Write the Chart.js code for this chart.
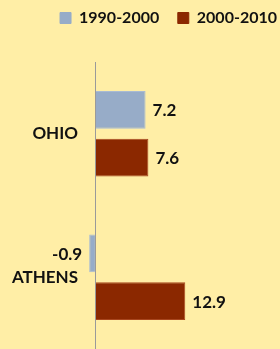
<!DOCTYPE html>
<html>
<head>
<meta charset="utf-8">
<script src="https://cdn.jsdelivr.net/npm/chart.js@4"></script>
<style>
  html, body { margin: 0; padding: 0; background: #FFEEA6; }
  #wrap { width: 280px; height: 349px; position: relative; }
</style>
</head>
<body>
<div id="wrap"><canvas id="popChart"></canvas></div>
<script>
const categories = ["OHIO", "ATHENS"];
const seriesNames = ["1990-2000", "2000-2010"];
const change1990s = [7.2, -0.9];
const change2000s = [7.6, 12.9];

const FONT = "Lato, 'Open Sans', sans-serif";

// draws the value next to each bar end
const valueLabels = {
  id: "valueLabels",
  afterDatasetsDraw(chart) {
    const ctx = chart.ctx;
    ctx.save();
    ctx.font = "bold 17px " + FONT;
    ctx.fillStyle = "#111";
    ctx.textBaseline = "middle";
    chart.data.datasets.forEach((ds, i) => {
      chart.getDatasetMeta(i).data.forEach((bar, j) => {
        const v = ds.data[j];
        if (v < 0) {
          ctx.textAlign = "right";
          ctx.fillText(v.toFixed(1), bar.x - 7, bar.y + 1);
        } else {
          ctx.textAlign = "left";
          ctx.fillText(v.toFixed(1), bar.x + 7, bar.y + 1);
        }
      });
    });
    ctx.restore();
  },
};

// keep the plot area starting at a fixed height under the legend
const legendSpace = {
  id: "legendSpace",
  beforeInit(chart) {
    const origFit = chart.legend.fit;
    chart.legend.fit = function () {
      origFit.bind(chart.legend)();
      this.height = 55;
    };
  },
};

new Chart(document.getElementById("popChart"), {
  type: "bar",
  data: {
    labels: categories,
    datasets: [
      {
        label: seriesNames[0],
        data: change1990s,
        backgroundColor: "#97ACC8",
        borderColor: "#A9BBD3",
        borderWidth: 1,
      },
      {
        label: seriesNames[1],
        data: change2000s,
        backgroundColor: "#8B2800",
        borderColor: "#A8461E",
        borderWidth: 1,
      },
    ],
  },
  options: {
    indexAxis: "y",
    responsive: true,
    maintainAspectRatio: false,
    animation: false,
    categoryPercentage: 0.667,
    barPercentage: 0.79,
    layout: { padding: { top: 7, left: 0, right: 0, bottom: 0 } },
    plugins: {
      legend: {
        position: "top",
        align: "end",
        labels: {
          boxWidth: 11,
          boxHeight: 11,
          padding: 3,
          color: "#111",
          font: { family: FONT, size: 16, weight: "bold" },
          generateLabels(chart) {
            const items = Chart.defaults.plugins.legend.labels.generateLabels(chart);
            // wider gap between the two entries
            items.forEach((it, i) => {
              if (i < items.length - 1) it.text = it.text + "    ";
              it.strokeStyle = it.fillStyle;
            });
            return items;
          },
        },
      },
      tooltip: { enabled: false },
    },
    scales: {
      x: {
        min: -1.5,
        max: 26.5,
        ticks: { display: false, padding: 0 },
        border: { display: false },
        grid: {
          drawTicks: false,
          color: (c) => (c.tick && c.tick.value === 0 ? "#9A9A9A" : "rgba(0,0,0,0)"),
        },
        afterBuildTicks(scale) {
          scale.ticks = [{ value: 0 }];
        },
        afterFit(scale) {
          scale.height = 0;
        },
      },
      y: {
        border: { display: false },
        grid: { display: false, drawTicks: false },
        ticks: {
          color: "#111",
          padding: 7,
          font: { family: FONT, size: 17, weight: "bold" },
        },
        afterFit(scale) {
          scale.width = 85;
          // let the category bands run to the bottom edge
          scale.paddingTop = 0;
          scale.paddingBottom = 0;
        },
      },
    },
  },
  plugins: [valueLabels, legendSpace],
});
</script>
</body>
</html>
